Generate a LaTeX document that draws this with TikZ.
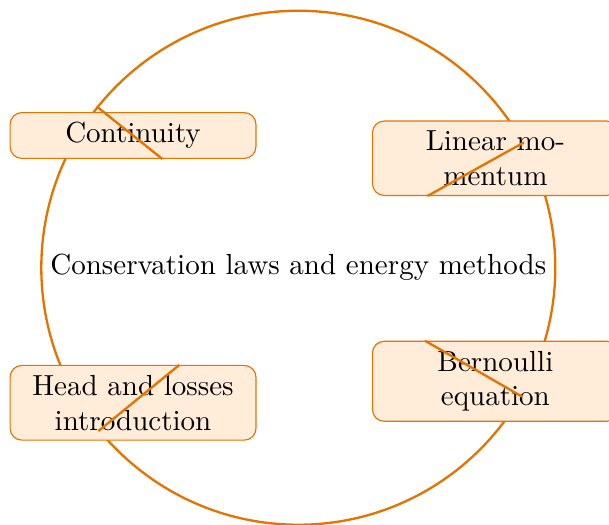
\documentclass[tikz,border=0pt]{standalone}
\usetikzlibrary{positioning, calc}
\colorlet{lineorange}{orange!90!black}
\colorlet{fillorange}{orange!15}
\newcommand{\hubsize}{6.22cm}
\newcommand{\topicwidth}{2.74cm}

\begin{document}
\begin{tikzpicture}[
    hub/.style={
        circle,
        draw=lineorange,
        thick,
        minimum size=\hubsize,
        inner sep=1pt,
        align=center
    },
    topic/.style={
        rectangle,
        draw=lineorange,
        fill=fillorange,
        rounded corners=4pt,
        thin,
        align=center,
        text width=\topicwidth,
        anchor=center
    },
    link/.style={
        draw=lineorange,
        thick
    }
]

    % --- frame (keeps the clipped margins) ---
    \useasboundingbox (-3.61,-3.11) rectangle (3.76,3.24);

    % --- central circle ---
    \node[hub] (hub) at (0,0) {Conservation laws and energy methods};

    % --- topics ---
    \node[topic] (cont) at (-2.00,1.60)  {Continuity};
    \node[topic] (mom)  at (2.385,1.325) {Linear momentum};
    \node[topic] (head) at (-2.00,-1.634) {Head and losses introduction};
    \node[topic] (bern) at (2.385,-1.374) {Bernoulli equation};

    % --- links from the circle ---
    \draw[link] (hub) -- (cont);
    \draw[link] (hub) -- (mom);
    \draw[link] (hub) -- (head);
    \draw[link] (hub) -- (bern);

\end{tikzpicture}
\end{document}
